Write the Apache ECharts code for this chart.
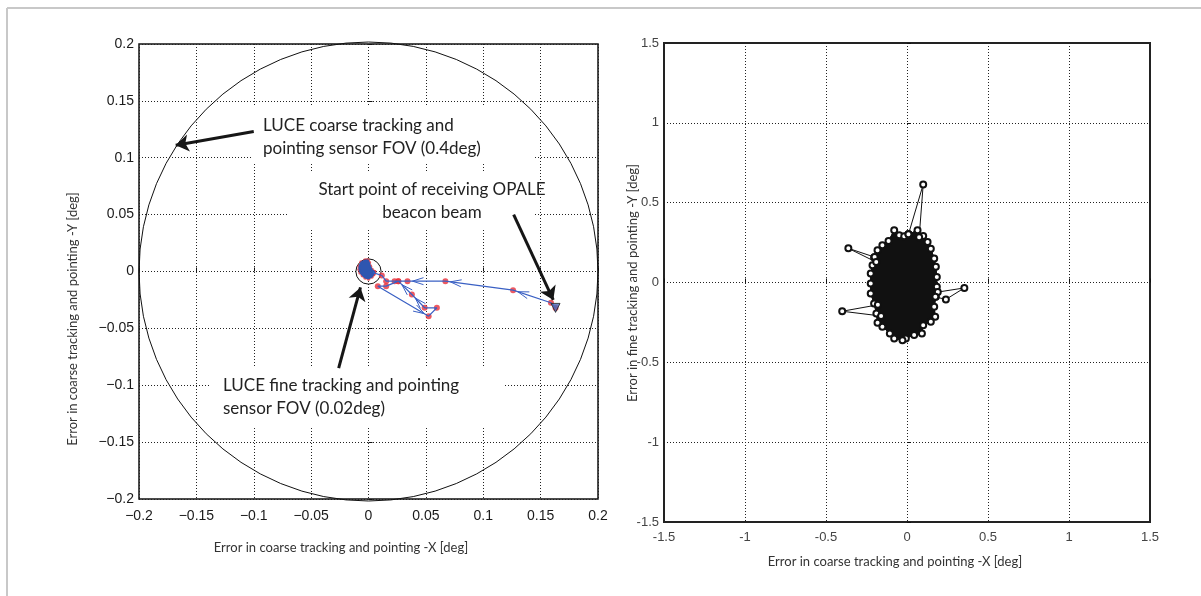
<!DOCTYPE html>
<html>
<head>
<meta charset="utf-8">
<title>LUCE tracking error</title>
<script src="https://cdn.jsdelivr.net/npm/echarts@6/dist/echarts.min.js"></script>
<style>
html, body { margin: 0; padding: 0; background: #fff; }
#main { width: 1201px; height: 596px; }
</style>
</head>
<body>
<div id="main"></div>
<script>
// ---- left panel: coarse tracking error [deg] ----
var fovX = [0, 0];            // FOV circle centres
var fovY = [0, 0];
var fovR = [0.2, 0.011];      // coarse FOV 0.4deg, fine FOV 0.02deg

// trajectory from OPALE beacon acquisition to the centre
var pathX = [0.163, 0.159, 0.126, 0.067, 0.034, 0.026, 0.0154, 0.0081, 0.0524, 0.0596, 0.0489, 0.0378, 0.026, 0.0227, 0.0154, 0.0116, 0.004];
var pathY = [-0.032, -0.0275, -0.0164, -0.0085, -0.0085, -0.0085, -0.0129, -0.0129, -0.0393, -0.0319, -0.0319, -0.0202, -0.0085, -0.0085, -0.0085, -0.0035, -0.001];

// settled cluster (inside fine FOV)
var clusterX = [-0.0081, -0.0064, -0.0029, -0.0006, 0.0006, 0.0015, 0.0029, 0.0052, 0.0044, 0.0029, 0, -0.0029, -0.0052, -0.0072, -0.0081];
var clusterY = [0.0047, 0.0082, 0.0099, 0.0099, 0.0076, 0.0047, 0.0018, -0.0003, -0.0026, -0.0047, -0.0064, -0.0055, -0.0035, -0.0011, 0.0018];

// annotation arrows [x1, y1, x2, y2]
var noteArrows = [
  [-0.100, 0.123, -0.168, 0.111],
  [0.1265, 0.050, 0.161, -0.025],
  [-0.026, -0.085, -0.007, -0.014]
];

// ---- right panel: fine tracking error [deg] ----
var blobX = [0.009, 0.065, 0.100, 0.127, 0.147, 0.168, 0.178, 0.184, 0.184, 0.178, 0.168, 0.174, 0.147, 0.100, 0.092, 0.044, -0.007, -0.028, -0.079, -0.106, -0.152, -0.182, -0.189, -0.203, -0.224, -0.224, -0.224, -0.213, -0.203, -0.182, -0.152, -0.114, -0.079, -0.048, -0.017, 0.009];
var blobY = [0.302, 0.327, 0.291, 0.254, 0.212, 0.150, 0.098, 0.035, -0.027, -0.090, -0.152, -0.215, -0.246, -0.267, -0.319, -0.329, -0.350, -0.361, -0.350, -0.319, -0.277, -0.252, -0.194, -0.131, -0.069, -0.006, 0.056, 0.108, 0.156, 0.202, 0.233, 0.260, 0.327, 0.296, 0.289, 0.302];

// excursions outside the main cloud
var spikeX = [[0.009, 0.100, 0.075], [-0.200, -0.362, -0.190], [-0.180, -0.400, -0.160], [0.190, 0.354, 0.240, 0.175]];
var spikeY = [[0.302, 0.614, 0.283], [0.159, 0.214, 0.128], [-0.140, -0.180, -0.210], [-0.060, -0.034, -0.106, -0.090]];

function zip(xs, ys) {
  return xs.map(function (x, i) { return [x, ys[i]]; });
}

var chart = echarts.init(document.getElementById('main'));

var tickFont = 'Liberation Sans';
var noteFont = '17px Lato';

function leftLabel(v) {
  return String(+v.toFixed(2)).replace('-', '\u2212');
}

var series = [];

// FOV circles
series.push({
  type: 'custom', xAxisIndex: 0, yAxisIndex: 0, z: 3,
  data: fovR.map(function (r, i) { return [fovX[i], fovY[i], r]; }),
  renderItem: function (params, api) {
    var c = api.coord([api.value(0), api.value(1)]);
    var r = api.size([api.value(2), 0])[0];
    return { type: 'circle', shape: { cx: c[0], cy: c[1], r: r },
      style: { fill: 'none', stroke: '#111', lineWidth: 1 } };
  }
});
// red samples along the path
series.push({
  type: 'scatter', xAxisIndex: 0, yAxisIndex: 0, z: 4,
  symbolSize: 6, itemStyle: { color: '#e8303a' },
  data: zip(pathX, pathY)
});
// red samples round the cluster edge
series.push({
  type: 'scatter', xAxisIndex: 0, yAxisIndex: 0, z: 4,
  symbolSize: 4, itemStyle: { color: '#e8303a' },
  data: zip(clusterX, clusterY)
});
// blue settled cluster
series.push({
  type: 'custom', xAxisIndex: 0, yAxisIndex: 0, z: 5,
  data: [[0, 0]],
  renderItem: function (params, api) {
    var pts = clusterX.map(function (x, i) { return api.coord([x, clusterY[i]]); });
    return { type: 'polygon', shape: { points: pts },
      style: { fill: '#2f56b0', stroke: '#2f56b0', lineWidth: 1.5 } };
  }
});
// blue trajectory
series.push({
  type: 'line', xAxisIndex: 0, yAxisIndex: 0, z: 5,
  symbol: 'none', lineStyle: { color: '#3a60c4', width: 1.2 },
  data: zip(pathX, pathY)
});
// open arrow heads near the end of each segment
series.push({
  type: 'custom', xAxisIndex: 0, yAxisIndex: 0, z: 5,
  data: pathX.slice(1).map(function (x, i) { return [pathX[i], pathY[i], x, pathY[i + 1]]; }),
  renderItem: function (params, api) {
    var a = api.coord([api.value(0), api.value(1)]);
    var b = api.coord([api.value(2), api.value(3)]);
    var dx = b[0] - a[0], dy = b[1] - a[1];
    var len = Math.sqrt(dx * dx + dy * dy);
    if (len < 15) return null;
    var ux = dx / len, uy = dy / len;
    var tip = [b[0] - ux * 5, b[1] - uy * 5];
    var L = 11, w = 3.5;
    return { type: 'polyline', shape: { points: [
        [tip[0] - ux * L - uy * w, tip[1] - uy * L + ux * w],
        tip,
        [tip[0] - ux * L + uy * w, tip[1] - uy * L - ux * w]
      ] },
      style: { fill: 'none', stroke: '#3a60c4', lineWidth: 1 } };
  }
});
// start marker
series.push({
  type: 'scatter', xAxisIndex: 0, yAxisIndex: 0, z: 6,
  symbol: 'triangle', symbolRotate: 180, symbolSize: 9,
  itemStyle: { color: '#4a66b8', borderColor: '#222', borderWidth: 1 },
  data: [[pathX[0], pathY[0]]]
});
// annotation arrows
series.push({
  type: 'lines', coordinateSystem: 'cartesian2d', xAxisIndex: 0, yAxisIndex: 0, z: 7,
  symbol: ['none', 'arrow'], symbolSize: 13,
  lineStyle: { color: '#161616', width: 3, opacity: 1 },
  data: noteArrows.map(function (a) { return { coords: [[a[0], a[1]], [a[2], a[3]]] }; })
});

// right panel: dense cloud drawn as filled outline
series.push({
  type: 'custom', xAxisIndex: 1, yAxisIndex: 1, z: 3,
  data: [[0, 0]],
  renderItem: function (params, api) {
    var pts = blobX.map(function (x, i) { return api.coord([x, blobY[i]]); });
    return { type: 'polygon', shape: { points: pts },
      style: { fill: '#111', stroke: '#111', lineWidth: 1 } };
  }
});
series.push({
  type: 'line', xAxisIndex: 1, yAxisIndex: 1, z: 4,
  symbol: 'emptyCircle', symbolSize: 6,
  lineStyle: { color: '#111', width: 1 },
  itemStyle: { color: '#111', borderWidth: 1 },
  data: zip(blobX, blobY)
});
spikeX.forEach(function (xs, k) {
  series.push({
    type: 'line', xAxisIndex: 1, yAxisIndex: 1, z: 4,
    symbol: 'emptyCircle', symbolSize: 6,
    lineStyle: { color: '#111', width: 1 },
    itemStyle: { color: '#111', borderWidth: 1 },
    data: zip(xs, spikeY[k])
  });
});

function valueAxis(gridIndex, min, max, step, labelOpt) {
  return {
    type: 'value', gridIndex: gridIndex, min: min, max: max, interval: step,
    axisLine: { show: false },
    axisTick: { inside: true, length: 4, lineStyle: { color: '#111' } },
    splitLine: { show: true, lineStyle: { color: '#222', type: [1, 2], width: 1 } },
    axisLabel: labelOpt
  };
}

var leftLab = { fontFamily: tickFont, fontSize: 14, color: '#1a1a1a', formatter: leftLabel };
var rightLab = { fontFamily: tickFont, fontSize: 13, color: '#444' };

var option = {
  animation: false,
  backgroundColor: '#fff',
  grid: [
    { left: 139, top: 44, width: 459, height: 455, show: true, borderColor: '#111', borderWidth: 1.5 },
    { left: 664, top: 43, width: 486, height: 479, show: true, borderColor: '#222', borderWidth: 2 }
  ],
  xAxis: [
    valueAxis(0, -0.2, 0.2, 0.05, Object.assign({ margin: 10 }, leftLab)),
    valueAxis(1, -1.5, 1.5, 0.5, Object.assign({ margin: 9 }, rightLab))
  ],
  yAxis: [
    valueAxis(0, -0.2, 0.2, 0.05, Object.assign({ margin: 5 }, leftLab)),
    valueAxis(1, -1.5, 1.5, 0.5, Object.assign({ margin: 5 }, rightLab))
  ],
  graphic: [
    // figure frame (top and left edges)
    { type: 'line', z: 0, shape: { x1: 7, y1: 8, x2: 1201, y2: 8 }, style: { stroke: '#c8c8c8', lineWidth: 2 } },
    { type: 'line', z: 0, shape: { x1: 7, y1: 8, x2: 7, y2: 596 }, style: { stroke: '#c8c8c8', lineWidth: 2 } },
    // white text boxes over the grid
    { type: 'rect', z: 1, shape: { x: 253, y: 105, width: 280, height: 58 }, style: { fill: '#fff' } },
    { type: 'rect', z: 1, shape: { x: 288, y: 172, width: 245, height: 56 }, style: { fill: '#fff' } },
    { type: 'rect', z: 1, shape: { x: 211, y: 368, width: 294, height: 59 }, style: { fill: '#fff' } },
    { type: 'text', z: 20, x: 263, y: 137, style: { text: 'LUCE coarse tracking and\npointing sensor FOV (0.4deg)',
        font: noteFont, fill: '#222', lineHeight: 23, textVerticalAlign: 'middle' } },
    { type: 'text', z: 20, x: 432, y: 201, style: { text: 'Start point of receiving OPALE\nbeacon beam',
        font: noteFont, fill: '#222', lineHeight: 23, textAlign: 'center', textVerticalAlign: 'middle' } },
    { type: 'text', z: 20, x: 223, y: 397, style: { text: 'LUCE fine tracking and pointing\nsensor FOV (0.02deg)',
        font: noteFont, fill: '#222', lineHeight: 23, textVerticalAlign: 'middle' } },
    // axis titles
    { type: 'text', z: 20, x: 341, y: 548, style: { text: 'Error in coarse tracking and pointing -X [deg]',
        font: '13px Lato', fill: '#333', textAlign: 'center', textVerticalAlign: 'middle' } },
    { type: 'text', z: 20, x: 73, y: 319, rotation: Math.PI / 2, style: { text: 'Error in coarse tracking and pointing -Y [deg]',
        font: '13px Lato', fill: '#333', textAlign: 'center', textVerticalAlign: 'middle' } },
    { type: 'text', z: 20, x: 895, y: 562, style: { text: 'Error in coarse tracking and pointing -X [deg]',
        font: '13px Lato', fill: '#333', textAlign: 'center', textVerticalAlign: 'middle' } },
    { type: 'text', z: 20, x: 633, y: 283, rotation: Math.PI / 2, style: { text: 'Error in fine tracking and pointing -Y [deg]',
        font: '13px Lato', fill: '#333', textAlign: 'center', textVerticalAlign: 'middle' } }
  ],
  series: series
};

chart.setOption(option);
</script>
</body>
</html>
